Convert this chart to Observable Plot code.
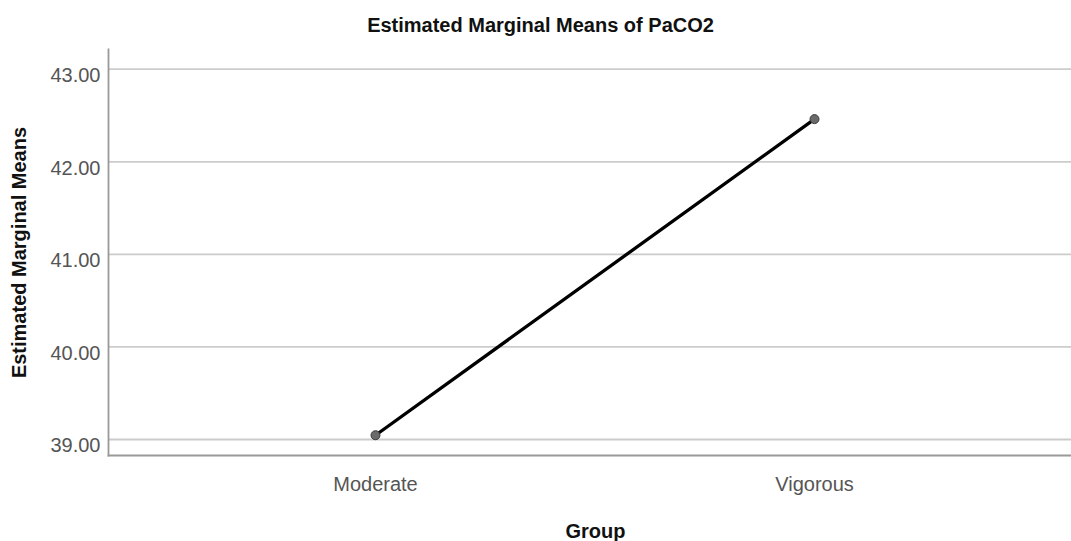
<!DOCTYPE html>
<html>
<head>
<meta charset="utf-8">
<script src="https://cdn.jsdelivr.net/npm/d3@7"></script>
<script src="https://cdn.jsdelivr.net/npm/@observablehq/plot@0.6"></script>
<style>
  body { margin: 0; background: #fff; }
</style>
</head>
<body>
<div id="chart"></div>
<script>
const groups = ["Moderate", "Vigorous"];
const means = [39.046, 42.461];
const yTicks = [39, 40, 41, 42, 43];

const data = groups.map((g, i) => ({group: g, mean: means[i]}));
const font = "'Liberation Sans', Arial, sans-serif";

const chart = Plot.plot({
  width: 1071,
  height: 541,
  marginTop: 49,
  marginBottom: 86,
  marginLeft: 108,
  marginRight: 0,
  style: {fontFamily: font, background: "#fff", overflow: "visible"},
  x: {type: "point", domain: groups, padding: 0.596, align: 0.51},
  y: {domain: [38.827, 43.213]},
  marks: [
    Plot.gridY(yTicks, {stroke: "#cccccc", strokeOpacity: 1, strokeWidth: 1.8}),
    Plot.axisY(yTicks, {tickSize: 0, tickPadding: 8, dy: 6.5, tickFormat: d => d.toFixed(2), fontSize: 20, color: "#555", label: null}),
    Plot.axisX({tickSize: 0, tickPadding: 21, fontSize: 20, color: "#555", label: null}),
    Plot.frame({anchor: "left", stroke: "#9a9a9a", strokeWidth: 1.8}),
    Plot.frame({anchor: "bottom", stroke: "#9a9a9a", strokeWidth: 1.8}),
    Plot.line(data, {x: "group", y: "mean", stroke: "#000", strokeWidth: 3.3}),
    Plot.dot(data, {x: "group", y: "mean", r: 4.5, fill: "#6a6a6a", stroke: "#3a3a3a", strokeWidth: 1}),
    Plot.text(["Estimated Marginal Means of PaCO2"], {frameAnchor: "top", lineAnchor: "middle", dx: -49.5, dy: -24.4, fontSize: 20, fontWeight: "bold", fill: "#111", textAnchor: "middle"}),
    Plot.text(["Estimated Marginal Means"], {frameAnchor: "left", lineAnchor: "middle", dx: -89.4, rotate: -90, fontSize: 20, fontWeight: "bold", fill: "#111", textAnchor: "middle"}),
    Plot.text(["Group"], {frameAnchor: "bottom", lineAnchor: "middle", dx: 5.5, dy: 75.6, fontSize: 20, fontWeight: "bold", fill: "#111", textAnchor: "middle"})
  ]
});
document.getElementById("chart").appendChild(chart);
</script>
</body>
</html>
